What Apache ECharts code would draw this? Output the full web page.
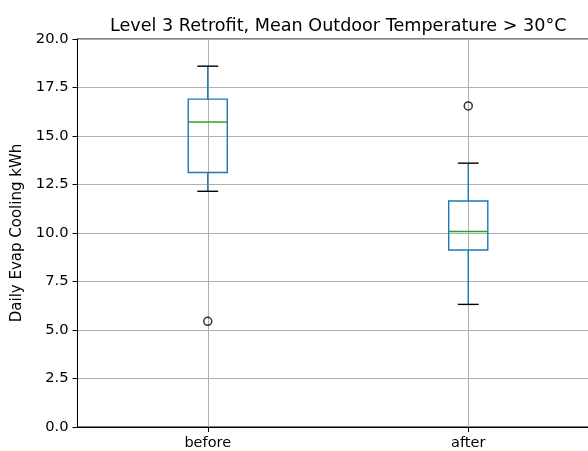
<!DOCTYPE html>
<html>
<head>
<meta charset="utf-8">
<script src="https://cdn.jsdelivr.net/npm/echarts@6/dist/echarts.min.js"></script>
<style>html,body{margin:0;padding:0;background:#fff;overflow:hidden;width:588px;height:451px}#c{width:610px;height:451px}</style>
</head>
<body>
<div id="c"></div>
<script>
const categories = ['before', 'after'];
// [min whisker, Q1, median, Q3, max whisker]
const boxBefore = [12.15, 13.12, 15.72, 16.9, 18.6];
const boxAfter = [6.32, 9.12, 10.08, 11.65, 13.6];
const outliersBefore = [5.45];
const outliersAfter = [16.55];
const yTicks = [0, 2.5, 5, 7.5, 10, 12.5, 15, 17.5, 20];

const FONT = 'DejaVu Sans';
const boxData = [[0].concat(boxBefore), [1].concat(boxAfter)];
const outlierData = outliersBefore.map(v => [0, v]).concat(outliersAfter.map(v => [1, v]));

const chart = echarts.init(document.getElementById('c'), null, {renderer: 'canvas'});
chart.setOption({
  animation: false,
  backgroundColor: '#fff',
  title: {
    text: 'Level 3 Retrofit, Mean Outdoor Temperature > 30°C',
    left: 105, top: 12,
    textStyle: {fontFamily: FONT, fontSize: 17.6, fontWeight: 'normal', color: '#000'}
  },
  grid: {left: 77.5, top: 39, width: 521, height: 388, show: true, borderColor: '#000', borderWidth: 1, containLabel: false},
  xAxis: {
    type: 'category', data: categories, boundaryGap: true,
    axisLine: {lineStyle: {color: '#000', width: 1}},
    axisTick: {show: true, alignWithLabel: true, length: 5, lineStyle: {color: '#000'}},
    axisLabel: {fontFamily: FONT, fontSize: 14.5, color: '#000', margin: 9},
    splitLine: {show: true, alignWithLabel: true, lineStyle: {color: '#b0b0b0', width: 1}}
  },
  yAxis: {
    type: 'value', min: 0, max: 20, interval: 2.5,
    name: 'Daily Evap Cooling kWh', nameLocation: 'middle', nameGap: 48,
    nameTextStyle: {fontFamily: FONT, fontSize: 15, color: '#000'},
    axisLine: {show: true, lineStyle: {color: '#000', width: 1}},
    axisTick: {show: true, length: 5, lineStyle: {color: '#000'}},
    axisLabel: {fontFamily: FONT, fontSize: 14.7, color: '#000', margin: 9,
      formatter: v => (yTicks.indexOf(v) >= 0 ? v.toFixed(1) : '')},
    splitLine: {show: true, lineStyle: {color: '#b0b0b0', width: 1}}
  },
  series: [
    {
      type: 'custom',
      data: boxData,
      encode: {x: 0, y: [1, 2, 3, 4, 5]},
      renderItem: function (params, api) {
        const x = api.value(0);
        const band = api.size([1, 0])[0];
        const half = band * 0.15 / 2;
        const cap = band * 0.04;
        const pMin = api.coord([x, api.value(1)]);
        const pQ1 = api.coord([x, api.value(2)]);
        const pMed = api.coord([x, api.value(3)]);
        const pQ3 = api.coord([x, api.value(4)]);
        const pMax = api.coord([x, api.value(5)]);
        const cx = pMed[0];
        const blue = '#1f77b4';
        const lw = 1.4;
        return {
          type: 'group',
          children: [
            {type: 'line', shape: {x1: cx, y1: pMin[1], x2: cx, y2: pQ1[1]}, style: {stroke: blue, lineWidth: lw}},
            {type: 'line', shape: {x1: cx, y1: pQ3[1], x2: cx, y2: pMax[1]}, style: {stroke: blue, lineWidth: lw}},
            {type: 'line', shape: {x1: cx - cap, y1: pMin[1], x2: cx + cap, y2: pMin[1]}, style: {stroke: '#000', lineWidth: lw}},
            {type: 'line', shape: {x1: cx - cap, y1: pMax[1], x2: cx + cap, y2: pMax[1]}, style: {stroke: '#000', lineWidth: lw}},
            {type: 'rect', shape: {x: cx - half, y: pQ3[1], width: half * 2, height: pQ1[1] - pQ3[1]}, style: {fill: 'none', stroke: blue, lineWidth: lw}},
            {type: 'line', shape: {x1: cx - half, y1: pMed[1], x2: cx + half, y2: pMed[1]}, style: {stroke: '#2ca02c', lineWidth: lw}}
          ]
        };
      }
    },
    {
      type: 'scatter',
      data: outlierData,
      symbol: 'circle', symbolSize: 8,
      itemStyle: {color: 'rgba(0,0,0,0)', borderColor: '#000', borderWidth: 1.5}
    }
  ]
});
</script>
</body>
</html>
